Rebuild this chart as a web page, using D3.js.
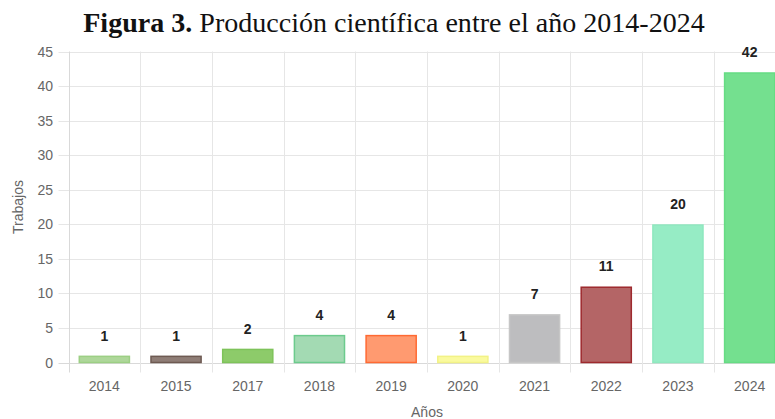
<!DOCTYPE html>
<html>
<head>
<meta charset="utf-8">
<script src="https://cdn.jsdelivr.net/npm/d3@7"></script>
<style>
  html, body { margin: 0; padding: 0; background: #fff; }
  svg { display: block; }
</style>
</head>
<body>
<svg id="chart" width="775" height="419"></svg>
<script>
// datos
const years = ['2014', '2015', '2017', '2018', '2019', '2020', '2021', '2022', '2023', '2024'];
const trabajos = [1, 1, 2, 4, 4, 1, 7, 11, 20, 42];
const fills = ['#aed79a', '#8f7d76', '#8dcb6a', '#a3dab3', '#ff9a70', '#fafa9e', '#bdbdbf', '#b46566', '#96ecc5', '#74e08f'];
const borders = ['#9ccf84', '#6e5a52', '#7ec35a', '#6ccb8d', '#ff6a33', '#f2f286', '#c6c6c6', '#9e2a2e', '#8fe8bf', '#66dc84'];
const yTicks = [0, 5, 10, 15, 20, 25, 30, 35, 40, 45];

const svg = d3.select('#chart');
const W = 775, H = 419;
// el área de trazado sigue más allá del borde derecho (la figura está recortada)
const plot = { left: 68.5, right: 785.5, top: 51.5, bottom: 362.5 };
const sans = '"Liberation Sans", Arial, sans-serif';

const x = d3.scaleBand().domain(years).range([plot.left, plot.right]).padding(0);
const y = d3.scaleLinear().domain([0, 45]).range([plot.bottom, plot.top]);
const barW = x.bandwidth() * 0.72;
const barOff = x.bandwidth() * 0.14;

// título
const title = svg.append('text')
  .attr('x', 394).attr('y', 32)
  .attr('text-anchor', 'middle')
  .attr('font-family', '"Liberation Serif", "DejaVu Serif", serif')
  .attr('font-size', 23)
  .attr('fill', '#111');
title.append('tspan').attr('font-weight', 700).text('Figura 3.');
title.append('tspan').text(' Producción científica entre el año 2014-2024');
// ajustar tamaño para que ocupe el mismo ancho que el original (~622px)
const tw = title.node().getComputedTextLength();
title.attr('font-size', 23 * 622 / tw);

// rejilla horizontal + marcas del eje y
const gGrid = svg.append('g');
gGrid.selectAll('line.h')
  .data(yTicks)
  .join('line')
  .attr('class', 'h')
  .attr('x1', plot.left - 10).attr('x2', W + 20)
  .attr('y1', d => Math.round(y(d)) + 0.5).attr('y2', d => Math.round(y(d)) + 0.5)
  .attr('stroke', d => d === 0 ? '#d9d9d9' : '#e6e6e6')
  .attr('stroke-width', 1);

// rejilla vertical (bordes de categoría) con marcas bajo el eje
const edges = years.map(d => x(d)).concat([plot.right]);
gGrid.selectAll('line.v')
  .data(edges)
  .join('line')
  .attr('class', 'v')
  .attr('x1', d => Math.round(d) + 0.5).attr('x2', d => Math.round(d) + 0.5)
  .attr('y1', plot.top).attr('y2', plot.bottom + 10)
  .attr('stroke', (d, i) => i === 0 ? '#d9d9d9' : '#e6e6e6')
  .attr('stroke-width', 1);

// etiquetas eje y
svg.append('g').selectAll('text')
  .data(yTicks)
  .join('text')
  .attr('x', 53).attr('y', d => y(d) + 5)
  .attr('text-anchor', 'end')
  .attr('font-family', sans).attr('font-size', 14).attr('fill', '#666')
  .text(d => d);

// etiquetas eje x
svg.append('g').selectAll('text')
  .data(years)
  .join('text')
  .attr('x', d => x(d) + x.bandwidth() / 2).attr('y', 391)
  .attr('text-anchor', 'middle')
  .attr('font-family', sans).attr('font-size', 14).attr('fill', '#666')
  .text(d => d);

// barras
const rows = years.map((d, i) => ({ year: d, v: trabajos[i], fill: fills[i], stroke: borders[i] }));
svg.append('g').selectAll('rect')
  .data(rows)
  .join('rect')
  .attr('x', d => x(d.year) + barOff + 0.75)
  .attr('y', d => y(d.v) + 0.75)
  .attr('width', barW - 1.5)
  .attr('height', d => y(0) - y(d.v) - 0.75)
  .attr('fill', d => d.fill)
  .attr('stroke', d => d.stroke)
  .attr('stroke-width', 1.5);

// valores sobre las barras
svg.append('g').selectAll('text')
  .data(rows)
  .join('text')
  .attr('x', d => x(d.year) + x.bandwidth() / 2)
  .attr('y', d => y(d.v) - 15)
  .attr('text-anchor', 'middle')
  .attr('font-family', sans).attr('font-size', 14).attr('font-weight', 700)
  .attr('fill', '#222')
  .text(d => d.v);

// títulos de ejes
svg.append('text')
  .attr('x', (plot.left + plot.right) / 2).attr('y', 417)
  .attr('text-anchor', 'middle')
  .attr('font-family', sans).attr('font-size', 14).attr('fill', '#666')
  .text('Años');

svg.append('text')
  .attr('transform', `translate(23,${(plot.top + plot.bottom) / 2}) rotate(-90)`)
  .attr('text-anchor', 'middle')
  .attr('font-family', sans).attr('font-size', 14).attr('fill', '#666')
  .text('Trabajos');
</script>
</body>
</html>
